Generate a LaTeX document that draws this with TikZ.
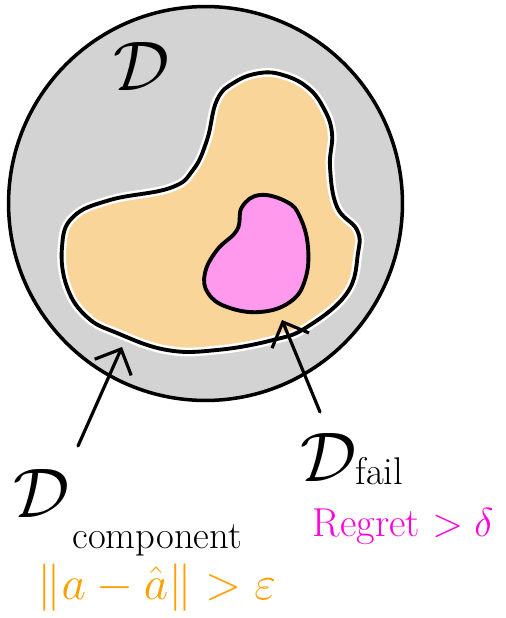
\RequirePackage{fix-cm}
\documentclass[tikz,border=0pt]{standalone}
\usepackage{amsmath}
\usetikzlibrary{arrows.meta, positioning}
\definecolor{setgray}{HTML}{D3D3D3}
\definecolor{compfill}{HTML}{FAD59A}
\definecolor{failfill}{HTML}{FF99EE}
\definecolor{failtext}{HTML}{FF00DD}
\definecolor{comptext}{HTML}{FFA000}
\tikzset{
  outline/.style={draw=black, line width=2.2pt, line join=round},
  halo/.style={draw=white, line width=5pt, line join=round},
  ptr/.style={-{Straight Barb[length=4mm, width=8mm]}, line width=1.8pt, line cap=round},
  bigD/.style={inner sep=0pt, font=\fontsize{40}{40}\selectfont},
  sub/.style={inner sep=0pt, font=\fontsize{22}{22}\selectfont},
  cond/.style={inner sep=0pt, font=\fontsize{27}{27}\selectfont},
}
\begin{document}
\begin{tikzpicture}[x=0.02cm, y=-0.02cm]
  \useasboundingbox (0,0) rectangle (505,618);

  \filldraw[fill=setgray, draw=black, line width=2pt] (205.5,203.5) circle [radius=3.94cm];

  \path[fill=compfill, postaction={halo}, postaction={outline}]
    plot[smooth cycle, tension=0.7] coordinates {
      (260,73) (283,75) (307,87) (323,107) (332,133) (330,167) (337,207)
      (357,230) (358,253) (347,293) (307,327) (273,340) (217,350) (167,350)
      (117,333) (87,317) (67,287) (62,247) (73,217) (110,200) (170,188)
      (193,170) (207,140) (217,100) (235,82)};

  \path[fill=failfill, postaction={outline}]
    plot[smooth cycle, tension=0.7] coordinates {
      (260,195) (287,202) (300,217) (308,247) (305,280) (290,302) (260,312)
      (227,307) (208,293) (205,273) (217,250) (237,230) (242,207)};

  \node[bigD] (dset) at (142,66) {$\mathcal{D}$};

  \node[bigD] (dcomp) at (42,493) {$\mathcal{D}$};
  \node[sub, anchor=base west] (compname) at (72,548) {component};
  \node[cond, text=comptext] (compcond) at (157,588) {$\|a-\hat{a}\|>\varepsilon$};

  \node[bigD] (dfail) at (329,457) {$\mathcal{D}$};
  \node[sub, anchor=base west] (failname) at (355,484) {fail};
  \node[sub, text=failtext, font=\fontsize{23}{23}\selectfont] (failcond) at (403,527) {Regret $>\delta$};

  \coordinate (compTail) at (78,446);
  \coordinate (compTip) at (122,347);
  \coordinate (failTail) at (320,412);
  \coordinate (failTip) at (282,320);
  \draw[ptr] (compTail) -- (compTip);
  \draw[ptr] (failTail) -- (failTip);
\end{tikzpicture}
\end{document}
